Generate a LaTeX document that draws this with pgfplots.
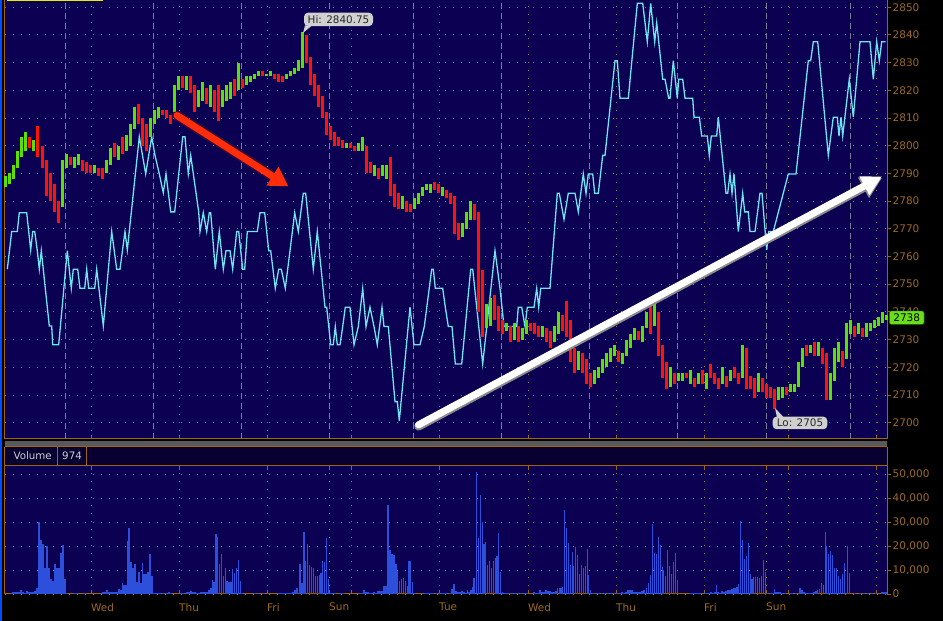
\documentclass[border=0pt]{standalone}
\usepackage{pgfplots}
\usepackage{pgfplotstable}
\pgfplotsset{compat=1.18}
\usepackage{fontspec}
\setmainfont{DejaVu Sans}
\usetikzlibrary{arrows.meta}
\definecolor{bgnavy}{RGB}{11,0,82}
\definecolor{hdrnavy}{RGB}{7,0,48}
\definecolor{framec}{RGB}{160,100,12}
\definecolor{gridc}{RGB}{175,115,10}
\definecolor{labc}{RGB}{155,105,35}
\definecolor{cgreen}{RGB}{90,225,0}
\definecolor{cred}{RGB}{255,20,0}
\definecolor{cyanl}{RGB}{110,228,242}
\definecolor{volc}{RGB}{45,80,220}
\definecolor{dashc}{RGB}{125,125,145}
\definecolor{callc}{RGB}{208,208,208}
\definecolor{boxg}{RGB}{105,222,25}
\definecolor{arrred}{RGB}{255,45,10}

\pgfplotstableread{
x lo hi c
6 2785 2789 1
10 2786 2790 1
14 2788 2793 1
18 2792 2798 1
22 2796 2803 1
26 2798 2805 1
30 2799 2803 0
34 2798 2802 1
38 2796 2807 0
42 2792 2800 0
46 2782 2795 0
50 2780 2790 0
54 2776 2786 0
58 2772 2780 0
62 2778 2795 1
66 2792 2797 1
70 2793 2796 0
74 2792 2796 1
78 2793 2797 1
82 2791 2795 0
86 2790 2794 0
90 2790 2793 0
94 2790 2793 1
98 2789 2792 0
102 2788 2792 0
106 2790 2795 1
110 2793 2799 1
114 2796 2801 0
118 2795 2800 1
122 2797 2803 0
126 2798 2804 1
130 2800 2808 1
134 2806 2814 1
138 2808 2815 0
142 2800 2810 0
146 2798 2808 0
150 2803 2810 1
154 2808 2813 1
158 2810 2814 1
162 2811 2813 0
166 2810 2813 0
170 2808 2811 0
174 2812 2822 1
178 2820 2825 1
182 2821 2825 0
186 2820 2825 1
190 2819 2825 0
194 2812 2822 0
198 2814 2820 1
202 2816 2823 1
206 2815 2821 0
210 2814 2822 1
214 2812 2820 0
218 2809 2822 0
222 2814 2820 1
226 2816 2822 1
230 2817 2823 1
234 2818 2824 0
238 2820 2830 1
242 2821 2824 0
246 2822 2825 1
250 2823 2825 1
254 2824 2826 1
258 2825 2827 1
262 2825 2827 0
266 2825 2826 1
270 2825 2827 1
274 2824 2826 0
278 2823 2826 0
282 2823 2825 0
286 2824 2826 1
290 2825 2827 1
294 2826 2828 1
298 2827 2831 1
302 2828 2841 1
306 2830 2840 0
310 2822 2832 0
314 2818 2826 0
318 2814 2822 0
322 2810 2818 0
326 2804 2812 0
330 2802 2807 0
334 2800 2805 0
338 2800 2803 0
342 2799 2802 0
346 2799 2801 1
350 2799 2801 0
354 2798 2800 0
358 2798 2801 1
362 2798 2803 1
366 2790 2800 0
370 2790 2794 0
374 2789 2793 1
378 2788 2792 0
382 2789 2793 1
386 2788 2793 1
390 2782 2796 0
394 2778 2786 0
398 2777 2783 0
402 2777 2782 1
406 2776 2780 0
410 2776 2779 0
414 2777 2781 1
418 2779 2783 1
422 2782 2785 1
426 2784 2786 1
430 2783 2786 1
434 2784 2787 0
438 2783 2786 0
442 2782 2785 1
446 2781 2784 0
450 2779 2783 0
454 2768 2782 0
458 2766 2772 0
462 2767 2772 1
466 2770 2776 1
470 2773 2780 1
474 2773 2779 0
478 2740 2776 0
482 2731 2755 0
486 2734 2743 1
490 2735 2745 1
494 2737 2746 0
498 2733 2742 0
502 2732 2737 0
506 2733 2736 1
510 2729 2735 0
514 2730 2736 1
518 2729 2735 0
522 2730 2734 1
526 2732 2737 1
530 2733 2736 0
534 2732 2736 0
538 2731 2735 0
542 2731 2735 1
546 2729 2734 0
550 2727 2733 0
554 2729 2735 1
558 2732 2740 1
562 2733 2739 0
566 2731 2744 0
570 2722 2737 0
574 2718 2727 0
578 2719 2726 1
582 2718 2725 0
586 2714 2723 0
590 2713 2718 0
594 2714 2719 1
598 2716 2720 1
602 2718 2723 1
606 2720 2725 1
610 2722 2727 1
614 2724 2728 1
618 2722 2726 0
622 2721 2725 1
626 2724 2730 1
630 2727 2732 1
634 2730 2734 1
638 2730 2733 0
642 2729 2735 1
646 2734 2740 1
650 2732 2743 0
654 2735 2743 1
658 2724 2740 0
662 2716 2728 0
666 2712 2722 0
670 2713 2720 1
674 2714 2718 0
678 2715 2718 1
682 2715 2718 1
686 2716 2718 0
690 2714 2719 1
694 2713 2716 0
698 2714 2718 1
702 2714 2719 0
706 2712 2718 1
710 2716 2721 0
714 2714 2718 0
718 2712 2716 0
722 2714 2720 1
726 2713 2717 0
730 2715 2719 1
734 2716 2720 0
738 2714 2718 0
742 2716 2728 1
746 2712 2727 0
750 2712 2717 0
754 2709 2716 0
758 2711 2718 1
762 2711 2716 0
766 2709 2714 0
770 2709 2713 0
774 2705 2712 0
778 2708 2713 1
782 2709 2713 1
786 2710 2713 0
790 2711 2714 1
794 2711 2714 1
798 2713 2722 1
802 2720 2727 1
806 2724 2728 0
810 2725 2728 1
814 2724 2729 0
818 2724 2729 1
822 2721 2727 0
826 2708 2725 0
830 2708 2718 1
834 2715 2727 1
838 2722 2729 1
842 2720 2726 0
846 2723 2736 1
850 2732 2737 1
854 2731 2735 0
858 2732 2736 1
862 2731 2734 0
866 2731 2736 1
870 2733 2736 1
874 2734 2737 1
878 2735 2738 1
882 2736 2740 1
886 2737 2739 1
}\candles

\pgfplotstableread{
x y
7.3 2755.4
11.7 2769.0
17.3 2769.0
19.3 2775.8
26.7 2775.8
30.7 2762.3
32.7 2769.0
34.7 2769.0
37.3 2762.1
39.3 2755.4
41.3 2762.1
49.3 2734.9
51.7 2734.9
52.7 2728.1
58.7 2728.1
67.3 2762.1
71.3 2748.5
73.3 2755.4
77.7 2755.4
80 2748.5
84.7 2748.5
86.7 2755.4
88.7 2748.5
94.7 2748.5
96.7 2755.4
103.3 2734.9
111.7 2769.0
116.7 2755.4
120 2755.4
125 2769.0
127.3 2762.3
139.3 2803.2
145.7 2789.8
151.7 2803.2
155 2796.5
159.3 2789.8
163.3 2783.0
166 2789.8
170.7 2776.1
174.7 2776.1
182.7 2803.2
185 2803.2
188.3 2789.8
190.7 2796.5
198.7 2776.1
200 2769.0
203.3 2775.8
206.7 2769.0
209.3 2775.8
210.7 2775.8
215.3 2755.4
219.3 2769.0
223.3 2755.4
226 2762.1
230 2762.1
232.7 2755.4
236.7 2769.0
238.7 2769.0
242.7 2755.4
244.7 2755.4
247.3 2769.0
257.3 2769.0
260 2775.8
264.7 2775.8
268.7 2762.1
270.7 2762.1
275.3 2748.5
278.7 2755.4
281.3 2755.4
285.3 2748.5
290 2762.1
294.7 2775.8
298.3 2769.0
303.3 2782.8
305.7 2782.8
313.3 2755.4
317.3 2769.0
325 2741.7
326.7 2741.7
330.7 2728.1
333.3 2728.1
335.3 2734.7
337.3 2728.1
340 2728.1
342.7 2734.7
345.3 2741.7
350 2741.7
354 2728.1
358.3 2734.7
362.7 2748.5
366 2734.7
370 2741.7
374 2734.7
377.3 2728.1
382 2741.7
384 2734.7
388.3 2734.7
395 2707.6
397.3 2707.6
399.3 2700.7
410 2741.7
414 2728.1
420 2728.1
424.3 2734.7
431.7 2755.4
433.3 2755.4
435.3 2748.5
442.7 2748.5
445.3 2741.7
448.3 2734.7
452 2734.7
455.3 2721.2
461.7 2721.2
470.7 2755.4
472.7 2755.4
482.7 2721.2
495 2762.1
500 2748.5
504 2734.7
516.7 2734.7
518.3 2741.7
521.7 2741.7
525 2734.7
527.3 2741.7
534 2741.7
536.7 2748.5
538.7 2741.7
540.7 2748.5
550 2748.5
557.3 2782.8
559.3 2782.8
564 2773.4
568.3 2782.8
575 2782.8
578.3 2776.1
583.3 2789.8
586 2782.8
588.3 2789.8
592.7 2789.8
594.7 2782.8
598.3 2782.8
602.7 2796.5
605 2796.5
615 2830.7
617.3 2830.7
620 2817.1
628.3 2817.1
637.3 2851.4
642.7 2851.4
647.3 2837.5
650.7 2851.4
654.7 2837.5
656.7 2844.4
662.7 2824.0
665 2824.0
668.7 2817.1
670 2817.1
673.3 2830.7
677.3 2817.1
678.7 2824.0
682.7 2824.0
685 2817.1
692.7 2817.1
694 2810.3
699.3 2810.3
701.7 2803.5
707.3 2803.5
709.3 2796.5
711.3 2803.5
716.7 2803.5
718.3 2810.3
726 2782.8
727.7 2782.8
730 2789.8
732 2782.8
734 2789.8
738.3 2769.0
742.7 2782.8
744.7 2776.1
748.3 2776.1
750 2769.0
755 2769.0
760 2782.8
762 2782.8
766.7 2762.3
768.7 2769.0
773.3 2769.0
788.3 2789.8
796 2789.8
808.3 2830.7
810.7 2830.7
813.3 2837.5
817.7 2837.5
828.3 2796.5
833.3 2810.3
837.3 2810.3
839 2803.5
841 2810.3
842.7 2803.5
849.3 2824.0
853.3 2810.3
860 2837.5
870 2837.5
873.3 2824.0
876.7 2837.5
879.3 2830.7
881.7 2837.5
885.7 2837.5
}\cyanline

\pgfplotstableread{
x v
13 800
15 1000
17 1000
19 800
21 1500
23 800
25 600
27 1200
29 1000
31 900
33 900
35 1200
37 2500
39 29900
41 22500
43 20800
45 10700
47 19900
49 10800
51 6100
53 5600
55 12500
57 10800
59 10800
61 17100
63 20400
65 6200
67 300
75 300
77 300
85 300
103 800
105 1000
107 1500
109 800
111 1000
113 800
115 800
117 800
119 2000
121 1500
122.5 4600
124 3800
126 3800
127.5 22100
129 27500
131 13300
133 10700
135 12500
137 5000
139 9200
141 4600
142.5 12900
144 8200
146 8200
148 9200
150 16700
152 7500
154 500
156 400
158 400
160 400
163 300
166 300
169 800
171 600
181 300
183 500
187 700
189 800
191 1200
193 800
195 1000
197 600
199 600
201 1000
203 800
205 700
207 1000
209 1500
211 2500
212.5 5800
214 5000
216 25000
217.5 23800
219.5 12500
221.5 16700
223.5 7500
225.5 10800
227 5300
229 5100
231 5100
232.5 10400
234.5 8700
236.5 10800
238.5 14200
240.5 5400
242 300
255 300
258 300
264 300
279 500
281 400
283 400
285 400
287 500
289 500
291 400
293 800
295 1500
297 2600
300 12500
302 4600
304 25800
305.5 13800
307.5 20800
309.5 12100
311.5 11200
313.5 10800
315.5 7500
317.5 7500
319.5 7900
321 8600
322.5 13800
324.5 13300
326.5 23300
328.5 6300
330 500
332 400
335 300
341 300
343 300
360 300
362 500
364 1700
366 800
368 800
370 500
372 400
374 800
376 500
378 1200
380 1200
382 1200
384 3300
386 3300
388 37000
390 18300
392 16700
394 16300
396 12500
397.5 9600
399.5 5400
401.5 6300
403.5 6700
405.5 5400
407.5 3300
409 13800
410.5 13800
412.5 5000
414 300
425 300
427 300
429 300
431 300
433 300
436 300
440 300
442 300
444 300
446 300
450 500
452 2100
454 4200
456 1200
458 800
460 800
462 1200
464 800
466 500
467.5 1700
469 800
471 1700
472.5 2900
474 6700
476.3 50800
478.3 23300
480.3 41200
482.3 30000
484 20800
485.5 21700
487.5 12100
489.5 13800
491.5 10800
493.5 13800
495.5 15000
497 15800
498.5 25400
500.5 9200
502.5 800
505 400
507 400
509 400
512 300
515 300
518 300
521 300
524 300
527 300
534 800
536 400
538 600
540 1700
542 800
544 800
546 1700
548 1200
550 1200
552 800
554 800
556 1200
557.5 2500
559.5 2500
561 2500
562.5 2900
564.3 35000
566.3 27500
568.3 21300
570.3 12100
572.3 17500
573.7 11700
575.3 19600
577.3 16300
579.3 8300
581.3 12100
583.3 10800
585.3 11700
587.3 18800
588.7 7900
590.5 1700
593 400
596 300
599 400
602 400
605 300
608 400
611 500
614 600
617 500
620 600
622 700
624 600
626 800
628 1700
630 1700
632 1700
634 1000
636 1000
638 1000
640 1000
642 1200
644 1700
646.7 2500
648.7 4600
650.7 7900
652.3 29200
654.3 17100
656.3 16700
658.3 23800
660.3 20400
662.3 11200
663.7 10000
665.7 7500
667.3 18300
669.3 11700
671.3 8300
673.3 13300
675.3 17100
677.3 5800
679.3 400
690 300
692 300
694 300
696 300
698 300
700 300
705 300
707 300
709 500
711 800
713 600
715 800
716.5 3800
718 800
720 400
722 1200
724 800
726 1200
728 1500
730 1700
732 2100
733.5 2700
735 2500
737 2900
738.5 4200
740.3 30400
742.3 22500
744.3 14600
746.3 15800
748.3 21300
750.3 8300
752 6300
753.7 7100
755.7 7100
757.7 7100
759.7 6700
761.7 7500
763.3 14200
765.3 9200
767 300
771 400
773 300
774.5 2100
776 800
778 800
780 800
782 500
785 400
790 300
792 300
796 300
800 2500
802 1700
804 800
806 400
808 400
810 600
812 400
814 800
816 1200
817.5 1700
819.3 2100
821.3 4600
823.3 3800
825.3 25800
826.7 20000
828.7 16700
830.7 17900
832.3 16300
834.3 10800
836.3 10800
838.3 7500
840.3 6300
842.3 8300
844.3 12900
847.3 20000
849.3 8700
851.3 300
855 300
860 300
864 300
868 300
872 300
876 300
882 800
884 800
886 800
}\volume

\begin{document}
\begin{tikzpicture}[x=1pt,y=1pt]
\useasboundingbox (0,0) rectangle (943,621);
\fill[black] (0,0) rectangle (943,621);
% separator band and header
\fill[black!65] (5,175.3) rectangle (887,179.5);
\fill[hdrnavy] (5,155) rectangle (887,174.3);
\draw[framec, line width=1pt] (4.7,174.3) -- (887,174.3);
\draw[framec, line width=1pt] (57.5,155) -- (57.5,174.3);
\draw[framec, line width=1pt] (86.3,155) -- (86.3,174.3);
\draw[framec, line width=1pt] (4.7,155) -- (4.7,174.3);
\draw[framec, line width=1pt] (887,155) -- (887,174.3);
\node[anchor=west, inner sep=0pt, text=black!20, font=\fontsize{10.3}{12}\selectfont] at (13.3,165.3) {Volume};
\node[anchor=west, inner sep=0pt, text=black!20, font=\fontsize{10.3}{12}\selectfont] at (62,165.3) {974};

\begin{axis}[
  at={(5pt,182pt)}, anchor=south west,
  scale only axis, width=882pt, height=439pt,
  xmin=5, xmax=887, ymin=2694.1, ymax=2852.6,
  clip=false,
  axis background/.style={fill=bgnavy},
  axis line style={draw=framec, line width=1pt},
  xtick={91,179,267,351,439,528,616,704,788,876},
  xticklabels={},
  xtick pos=left, xtick align=inside,
  extra x ticks={65.7,153.3,241.3,329.7,413.7,501.3,589.3,677.3,766.7,850.7},
  extra x tick labels={},
  extra x tick style={grid=major, major grid style={draw=dashc, dash pattern=on 6pt off 4pt, line width=0.9pt}, tick style={draw=none}},
  ytick={2700,2710,...,2850},
  ytick pos=right, ytick align=outside,
  yticklabel pos=right,
  major tick length=4pt,
  tick style={draw=framec, line width=0.9pt},
  xmajorgrids, ymajorgrids,
  major grid style={draw=gridc, line width=0.9pt, dash pattern=on 1pt off 7pt},
  yticklabel style={font=\fontsize{10.5}{12}\selectfont, text=labc, inner sep=1.5pt},
  /pgf/number format/assume math mode=true,
  /pgf/number format/1000 sep={},
]
\addplot[cyanl, line width=1.3pt] table[x=x,y=y] {\cyanline};
\addplot[draw=none, mark=none, restrict expr to domain={\thisrow{c}}{0.5:1.5},
  error bars/.cd, y dir=plus, y explicit, error mark=none,
  error bar style={draw=cgreen, line width=3pt}]
  table[x=x, y=lo, y error plus expr=\thisrow{hi}-\thisrow{lo}] {\candles};
\addplot[draw=none, mark=none, restrict expr to domain={\thisrow{c}}{-0.5:0.5},
  error bars/.cd, y dir=plus, y explicit, error mark=none,
  error bar style={draw=cred, line width=3pt}]
  table[x=x, y=lo, y error plus expr=\thisrow{hi}-\thisrow{lo}] {\candles};
% arrows
\draw[line width=10pt, draw=arrred!55!black, opacity=0.35, line cap=round] (axis cs:177,2810.9) -- (axis cs:276,2788.2);
\draw[line width=7pt, draw=arrred, line cap=round, -{Triangle[length=19pt,width=21pt]}] (axis cs:177,2810.9) -- (axis cs:288.5,2785.3);
\draw[line width=8.5pt, draw=black!45, line cap=round, yshift=-1.5pt, -{Triangle[length=21pt,width=22pt]}] (axis cs:418.5,2699.2) -- (axis cs:882,2788.9);
\draw[line width=7pt, draw=white, line cap=round, -{Triangle[length=20pt,width=20pt]}] (axis cs:418.5,2699.2) -- (axis cs:882,2788.9);
% callouts
\fill[callc] (axis cs:305,2843.4) -- (axis cs:312,2843.4) -- (axis cs:303,2840.7) -- cycle;
\node[fill=callc, rounded corners=4pt, minimum width=69pt, minimum height=13.3pt, inner sep=0pt, text=black!85, font=\fontsize{10.4}{12}\selectfont] at (axis cs:338.5,2845.6) {Hi: 2840.75};
\fill[callc] (axis cs:777,2701.8) -- (axis cs:784,2701.8) -- (axis cs:775,2705.3) -- cycle;
\node[fill=callc, rounded corners=4pt, minimum width=54.6pt, minimum height=12.6pt, inner sep=0pt, text=black!85, font=\fontsize{10.4}{12}\selectfont] at (axis cs:800,2699.9) {Lo: 2705};
\node[fill=boxg, draw=green!45!black, rounded corners=2pt, minimum width=34.7pt, minimum height=13.3pt, inner sep=0pt, text=black, font=\fontsize{10.5}{12}\selectfont] at (axis cs:906.7,2737.9) {2738};
\end{axis}

\begin{axis}[
  at={(5pt,27pt)}, anchor=south west,
  scale only axis, width=882pt, height=128pt,
  xmin=5, xmax=887, ymin=0, ymax=53333,
  axis background/.style={fill=bgnavy},
  axis line style={draw=framec, line width=1pt},
  xtick={91,179,267,329,351,439,528,616,704,766,788,876},
  xticklabels={Wed,Thu,Fri,Sun,,Tue,Wed,Thu,Fri,Sun,,},
  xtick align=inside,
  xticklabel style={anchor=north west, inner sep=0pt, yshift=-9pt, font=\fontsize{10.5}{12}\selectfont, text=labc},
  ytick={0,10000,...,50000},
  ytick pos=right, ytick align=outside, yticklabel pos=right,
  scaled y ticks=false,
  major tick length=4pt,
  tick style={draw=framec, line width=0.9pt},
  xmajorgrids, ymajorgrids,
  major grid style={draw=gridc, line width=0.9pt, dash pattern=on 1pt off 7pt},
  yticklabel style={font=\fontsize{10.5}{12}\selectfont, text=labc, inner sep=1.5pt},
  /pgf/number format/assume math mode=true,
]
\addplot[ycomb, draw=volc, line width=1.1pt] table[x=x,y=v] {\volume};
\end{axis}
\fill[blue!70!cyan] (0,0) rectangle (1.5,621);
\draw[yellow!90!green, line width=1.5pt] (7,620.3) -- (103,620.3);
\end{tikzpicture}
\end{document}
